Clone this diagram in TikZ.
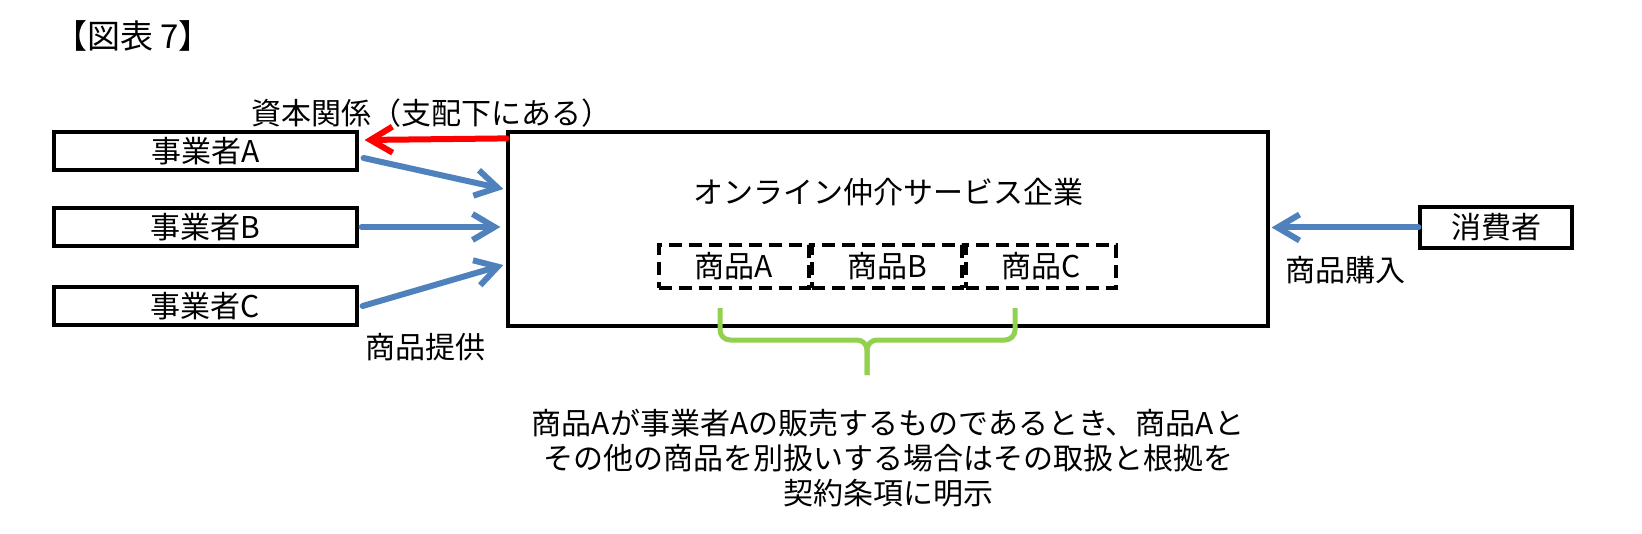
\documentclass[tikz,border=0pt]{standalone}
\usepackage{fontspec}
\setmainfont{Noto Sans CJK JP}
\usepackage{tikz}
\usetikzlibrary{arrows.meta}
\definecolor{supplyblue}{HTML}{4F81BD}
\definecolor{bracegreen}{HTML}{92D050}
\tikzset{
    every node/.style={font=\fontsize{15pt}{17.5pt}\selectfont, inner sep=0pt},
    firm/.style={draw, line width=1.6pt, minimum width=151.5pt, minimum height=19pt},
    goods/.style={draw, line width=1.8pt, dash pattern=on 6.5pt off 3.5pt, minimum width=75pt, minimum height=21.5pt},
    flow/.style={line width=3pt, line cap=round, line join=round, -{Straight Barb[length=11pt,width=13pt]}},
    brace/.style={draw=bracegreen, line width=2.5pt, rounded corners=5pt}
}
\begin{document}
\begin{tikzpicture}[x=0.5pt,y=-0.5pt]
            \useasboundingbox (0,0) rectangle (1642,534);
            \node[font=\fontsize{16.5pt}{19pt}\selectfont] (title) at (133,36) {【図表 7】};
            \node[firm] (firmA) at (205.5,151) {事業者A};
            \node[firm] (firmB) at (205.5,227) {事業者B};
            \node[firm] (firmC) at (205.5,306) {事業者C};
            \node[draw, line width=1.6pt, minimum width=380pt, minimum height=97pt] (platform) at (888,229) {};
            \node (platname) at (888,192) {オンライン仲介サービス企業};
            \node[goods] (goodsA) at (734,266.5) {商品A};
            \node[goods] (goodsB) at (887,266.5) {商品B};
            \node[goods] (goodsC) at (1041,266.5) {商品C};
            \node[firm, minimum width=76pt, minimum height=20.5pt] (consumer) at (1496,227.5) {消費者};
            % arrows
            \draw[flow, red] ([yshift=-4pt]platform.north west) -- ([xshift=3pt,yshift=5.5pt]firmA.east);
            \draw[flow, supplyblue] ([xshift=2.5pt,yshift=-3.5pt]firmA.east) -- ([xshift=-1.5pt,yshift=20pt]platform.west);
            \draw[flow, supplyblue] ([xshift=1.5pt]firmB.east) -- ([xshift=-3pt]platform.west |- firmB.east);
            \draw[flow, supplyblue] ([xshift=2pt]firmC.east) -- ([xshift=-1.5pt,yshift=-18pt]platform.west);
            \draw[flow, supplyblue] (consumer.west) -- ([xshift=1pt]platform.east |- consumer.west);
            \node (capital) at (431,113) {資本関係（支配下にある）};
            \node (supply) at (425,347) {商品提供};
            \node (purchase) at (1345,270) {商品購入};
            % brace
            \draw[brace] (720,308) -- (720,340) -- (867,340) -- (867,375);
            \draw[brace] (1015,308) -- (1015,340) -- (867,340) -- (867,375);
            \node[align=center] (note) at (888,458) {商品Aが事業者Aの販売するものであるとき、商品Aと\\その他の商品を別扱いする場合はその取扱と根拠を\\契約条項に明示};
        \end{tikzpicture}
\end{document}
